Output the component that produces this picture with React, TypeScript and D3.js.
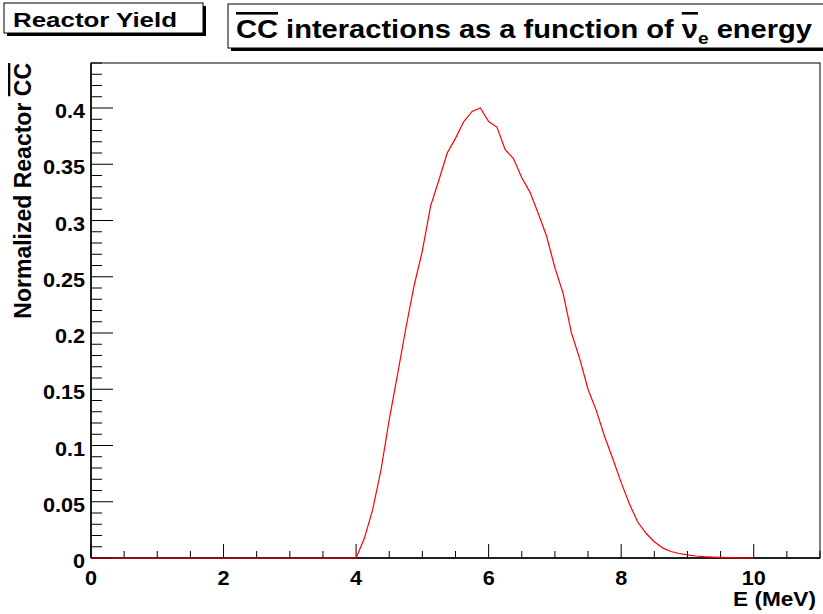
import React from "react";
import * as d3 from "d3";

const energies: number[] = [
  0, 4.0, 4.125, 4.25, 4.375, 4.5, 4.625, 4.75, 4.875, 5.0, 5.125, 5.25, 5.375, 5.5, 5.625, 5.75, 5.875,
  6.0, 6.125, 6.25, 6.375, 6.5, 6.625, 6.75, 6.875, 7.0, 7.125, 7.25, 7.375, 7.5, 7.625, 7.75, 7.875,
  8.0, 8.125, 8.25, 8.375, 8.5, 8.625, 8.75, 8.875, 9.0, 9.125, 9.25, 9.375, 9.5, 9.625, 9.75, 9.875, 10.0,
];
const yields: number[] = [
  0, 0, 0.0175, 0.043, 0.078, 0.123, 0.163, 0.204, 0.242, 0.273, 0.313, 0.336, 0.36, 0.373, 0.388, 0.397, 0.4,
  0.388, 0.383, 0.363, 0.355, 0.338, 0.325, 0.306, 0.286, 0.258, 0.235, 0.2, 0.177, 0.15, 0.131, 0.108, 0.088,
  0.067, 0.048, 0.032, 0.022, 0.0145, 0.009, 0.0058, 0.004, 0.0027, 0.0018, 0.0012, 0.0008, 0.0005, 0.0003, 0.0002, 0.0001, 0,
];
const xMajorTicks: number[] = [0, 2, 4, 6, 8, 10];
const yMajorTicks: number[] = [0, 0.05, 0.1, 0.15, 0.2, 0.25, 0.3, 0.35, 0.4];
const yTickLabels: string[] = ["0", "0.05", "0.1", "0.15", "0.2", "0.25", "0.3", "0.35", "0.4"];

const FONT = "'Liberation Sans', Arial, Helvetica, sans-serif";
const W = 823, H = 614;
const L = 91, R = 820, T = 63, B = 558;

export default function App() {
  const x = d3.scaleLinear().domain([0, 11]).range([L, R]);
  const y = d3.scaleLinear().domain([0, 0.44]).range([B, T]);
  const xMinor = d3.range(0, 11.001, 0.5).filter((v) => !xMajorTicks.includes(v));
  const yMinor = d3.range(0, 0.4401, 0.01).filter((v) => !yMajorTicks.some((m) => Math.abs(m - v) < 1e-6));
  const pts: [number, number][] = energies.map((e, i) => [e, yields[i]]);
  const line = d3.line<[number, number]>().x((d) => x(d[0])).y((d) => y(d[1]));

  return (
    <svg width={W} height={H} style={{ position: "fixed", left: 0, top: 0, background: "#fff" }} fontFamily={FONT} fontWeight="bold">
      <rect x={0} y={0} width={W} height={H} fill="#fff" />
      {/* Reactor Yield pave */}
      <rect x={7} y={6} width={199} height={30} fill="#000" />
      <rect x={4} y={3} width={199} height={30} fill="#fff" stroke="#000" strokeWidth={1} />
      <text x={95} y={27} fontSize={21} textAnchor="middle" textLength={164} lengthAdjust="spacingAndGlyphs">Reactor Yield</text>
      {/* Title pave */}
      <rect x={231} y={7} width={600} height={44} fill="#000" />
      <rect x={228} y={4} width={600} height={44} fill="#fff" stroke="#000" strokeWidth={1} />
      <text x={236} y={38} fontSize={26} textLength={576} lengthAdjust="spacingAndGlyphs">
        <tspan textDecoration="overline">CC</tspan>
        <tspan> interactions as a function of </tspan>
        <tspan textDecoration="overline">ν</tspan>
        <tspan fontSize={17} dy={6}>e</tspan>
        <tspan dy={-6}> energy</tspan>
      </text>

      {/* frame */}
      <rect x={L} y={T} width={R - L} height={B - T} fill="none" stroke="#000" strokeWidth={1} />
      <line x1={L} x2={L} y1={T} y2={B} stroke="#000" strokeWidth={1.5} />
      <line x1={L} x2={R} y1={B} y2={B} stroke="#000" strokeWidth={1.5} />

      {/* y ticks */}
      {yMajorTicks.map((v) => (
        <line key={"ym" + v} x1={L} x2={L + 22} y1={y(v)} y2={y(v)} stroke="#000" strokeWidth={1} />
      ))}
      {yMinor.map((v) => (
        <line key={"yn" + v} x1={L} x2={L + 11} y1={y(v)} y2={y(v)} stroke="#000" strokeWidth={1} />
      ))}
      {yMajorTicks.map((v, i) => (
        <text key={"yl" + v} transform={`translate(${L - 6},${y(v) + 10}) scale(1.03,1)`} fontSize={21} textAnchor="end">
          {yTickLabels[i]}
        </text>
      ))}

      {/* x ticks */}
      {xMajorTicks.map((v) => (
        <line key={"xm" + v} x1={x(v)} x2={x(v)} y1={B} y2={B - 14} stroke="#000" strokeWidth={1} />
      ))}
      {xMinor.map((v) => (
        <line key={"xn" + v} x1={x(v)} x2={x(v)} y1={B} y2={B - 7} stroke="#000" strokeWidth={1} />
      ))}
      {xMajorTicks.map((v) => (
        <text key={"xl" + v} transform={`translate(${x(v)},${585}) scale(1.03,1)`} fontSize={21} textAnchor="middle">
          {String(v)}
        </text>
      ))}

      {/* axis titles */}
      <text x={816} y={606} fontSize={20} textAnchor="end" textLength={83} lengthAdjust="spacingAndGlyphs">E (MeV)</text>
      <g transform="translate(31,0) rotate(-90)">
        <text x={-63} y={0} fontSize={23} textAnchor="end">
          <tspan>Normalized Reactor </tspan>
          <tspan textDecoration="overline">CC</tspan>
        </text>
      </g>

      {/* curve */}
      <path d={line(pts) || ""} fill="none" stroke="#ff0000" strokeWidth={1.2} />
    </svg>
  );
}
